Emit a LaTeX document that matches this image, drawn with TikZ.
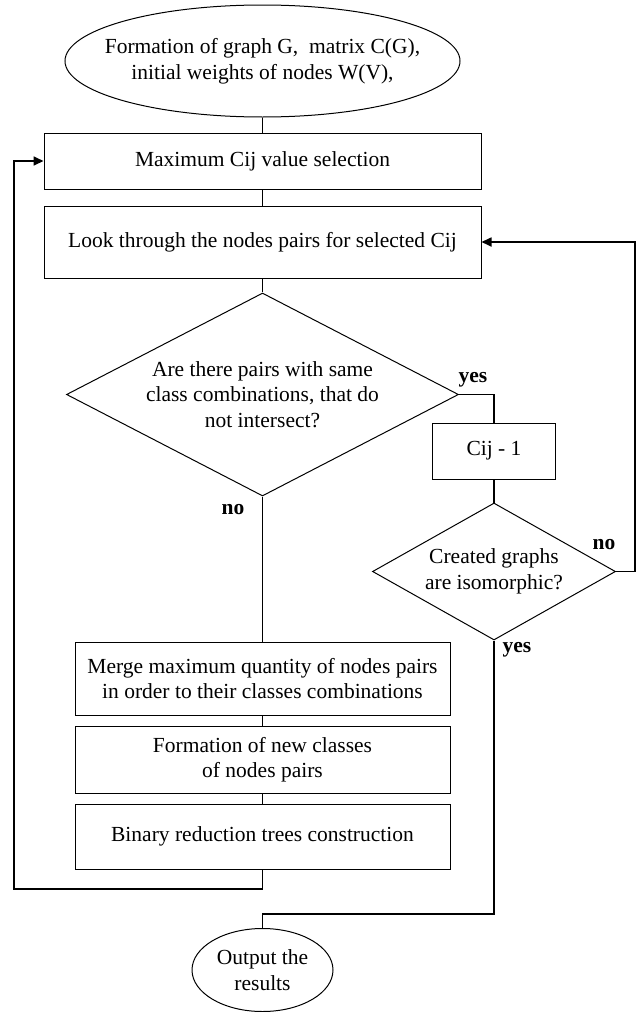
\documentclass[tikz,border=0pt]{standalone}
\usepackage{fontspec}
\setmainfont{Liberation Serif}
\usetikzlibrary{shapes.geometric,arrows.meta}
\begin{document}
\begin{tikzpicture}[x=1pt,y=-1pt,
  every node/.style={font=\fontsize{21.5}{25}\selectfont},
  box/.style={draw, line width=1pt, inner sep=0pt, align=center},
  ell/.style={draw, ellipse, line width=1pt, inner sep=0pt},
  dia/.style={draw, diamond, line width=1pt, inner sep=0pt},
  intext/.style={align=center, inner sep=0pt, font=\fontsize{21.5}{25.5}\selectfont},
  lab/.style={font=\fontsize{21.5}{25}\selectfont\bfseries, inner sep=0pt},
  conn/.style={line width=1.1pt},
  loopline/.style={line width=1.7pt},
  arr/.style={loopline, -{Triangle[length=10pt,width=9pt]}}
]
\useasboundingbox (0,0) rectangle (636,1012);
% nodes
\node[ell, minimum width=395pt, minimum height=112pt,
  label={[intext]center:{Formation of graph G,~ matrix C(G),\\initial weights of nodes W(V),}}] (start) at (262.5,61) {};
\node[box, minimum width=437pt, minimum height=56pt] (b1) at (262.5,161) {Maximum Cij value selection};
\node[box, minimum width=437pt, minimum height=72pt] (b2) at (262.5,242) {Look through the nodes pairs for selected Cij};
\node[dia, minimum width=392pt, minimum height=203pt,
  label={[intext]center:{Are there pairs with same\\class combinations, that do\\not intersect?}}] (d1) at (262.5,394.5) {};
\node[box, minimum width=123pt, minimum height=56pt] (cij) at (494,451) {Cij - 1};
\node[dia, minimum width=243pt, minimum height=137pt,
  label={[intext]center:{Created graphs\\are isomorphic?}}] (d2) at (494,571.5) {};
\node[box, minimum width=375pt, minimum height=73pt] (m1) at (262.5,678.5) {Merge maximum quantity of nodes pairs\\in order to their classes combinations};
\node[box, minimum width=375pt, minimum height=67pt] (m2) at (262.5,759.5) {Formation of new classes\\of nodes pairs};
\node[box, minimum width=375pt, minimum height=65pt] (m3) at (262.5,836.5) {Binary reduction trees construction};
\node[ell, minimum width=141pt, minimum height=83pt,
  label={[intext]center:{Output the\\results}}] (out) at (262.5,970) {};
% labels
\node[lab] (yes1) at (473,380) {yes};
\node[lab] (no1) at (233,510) {no};
\node[lab] (no2) at (604,545) {no};
\node[lab] (yes2) at (517,650) {yes};
% coordinates
\coordinate (rr) at (635,571.5);
\coordinate (lb) at (14,889);
\coordinate (yb) at (494,914);
% connectors
\draw[conn] (start) -- (b1);
\draw[conn] (b1) -- (b2);
\draw[conn] (b2) -- (d1);
\draw[conn] (d1.east) -| (cij.north);
\draw[conn] (cij) -- (d2);
\draw[arr] (d2.east) -- (rr) |- (b2.east);
\draw[conn] (d1) -- (m1);
\draw[conn] (m1) -- (m2);
\draw[conn] (m2) -- (m3);
\draw[arr] (m3.south) |- (lb) |- (b1.west);
\draw[loopline] (d2.south) -- (yb) -| (out.north);
\end{tikzpicture}
\end{document}
